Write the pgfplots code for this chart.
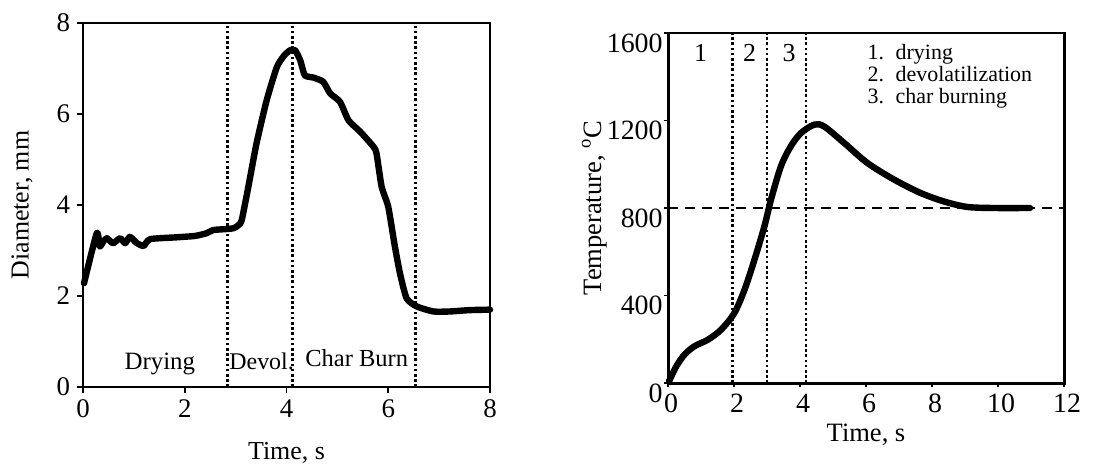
\documentclass[border=0pt]{standalone}
\usepackage{fontspec}
\setmainfont{Liberation Serif}
\usepackage{pgfplots}
\pgfplotsset{compat=1.18}
\begin{document}
\begin{tikzpicture}[x=1bp,y=1bp]
\useasboundingbox (0,0) rectangle (546.5,232.5);
% ---------------- left: diameter ----------------
\begin{axis}[
  at={(41.5bp,39bp)}, anchor=south west,
  width=203.5bp, height=182bp, scale only axis,
  xmin=0, xmax=8, ymin=0, ymax=8,
  xtick={0,2,4,6,8}, ytick={0,2,4,6,8},
  xtick pos=bottom, ytick pos=left,
  tick align=outside, major tick length=3bp,
  axis line style={line width=1.4pt},
  tick style={line width=0.9pt, black},
  ticklabel style={font=\fontsize{13.5}{15}\selectfont},
  /pgf/number format/assume math mode=true,
  xlabel={Time, s}, ylabel={Diameter, mm},
  label style={font=\fontsize{13}{15}\selectfont},
  xlabel style={at={(axis description cs:0.5,-0.18)}, anchor=center},
  ylabel style={at={(axis description cs:-0.15,0.5)}, anchor=center},
  clip=false,
]
\addplot[black, line width=3.2bp, line join=round, line cap=round, smooth, tension=0.35] coordinates {
(0.02,2.28) (0.27,3.38) (0.33,3.09) (0.40,3.20) (0.47,3.27) (0.54,3.20) (0.60,3.16)
(0.73,3.27) (0.83,3.16) (0.92,3.30) (1.05,3.17) (1.19,3.10) (1.32,3.25) (1.84,3.29)
(2.20,3.32) (2.43,3.38) (2.56,3.45) (2.80,3.47) (2.96,3.49) (3.05,3.55) (3.12,3.67)
(3.25,4.40) (3.41,5.35) (3.61,6.30) (3.81,7.03) (3.95,7.28) (4.07,7.40) (4.17,7.40)
(4.27,7.18) (4.36,6.85) (4.53,6.80) (4.72,6.71) (4.86,6.45) (5.05,6.27) (5.22,5.86)
(5.45,5.61) (5.71,5.28) (5.77,5.13) (5.87,4.40) (6.00,3.96) (6.13,3.09) (6.23,2.50)
(6.36,1.95) (6.56,1.77) (6.89,1.66) (7.21,1.66) (7.60,1.69) (8.00,1.70)
};
\addplot[black, line width=1.3bp, dash pattern=on 1.3bp off 1.3bp] coordinates {(2.84,0) (2.84,8)};
\addplot[black, line width=1.3bp, dash pattern=on 1.3bp off 1.3bp] coordinates {(4.12,0) (4.12,8)};
\addplot[black, line width=1.3bp, dash pattern=on 1.3bp off 1.3bp] coordinates {(6.53,0) (6.53,8)};
\node[anchor=base, font=\fontsize{12.5}{14}\selectfont] at (axis cs:1.51,0.38) {Drying};
\node[anchor=base, font=\fontsize{12}{14}\selectfont] at (axis cs:3.51,0.39) {Devol.};
\node[anchor=base, font=\fontsize{12.3}{14}\selectfont] at (axis cs:5.38,0.45) {Char Burn};
\end{axis}
% ---------------- right: temperature ----------------
\begin{axis}[
  at={(334bp,41bp)}, anchor=south west,
  width=198bp, height=175bp, scale only axis,
  xmin=0, xmax=12, ymin=0, ymax=1600,
  xtick={0,2,4,6,8,10,12}, ytick={0,400,800,1200,1600},
  xtick pos=bottom, ytick pos=left,
  tick align=outside, major tick length=2bp,
  axis line style={line width=1.5pt},
  tick style={line width=0.8pt, black},
  ticklabel style={font=\fontsize{14}{16}\selectfont},
  yticklabel style={inner sep=0.5bp, yshift=-5bp},
  xticklabel style={xshift=1.5bp},
  /pgf/number format/assume math mode=true,
  /pgf/number format/1000 sep={},
  xlabel={Time, s}, ylabel={Temperature, \textsuperscript{o}C},
  label style={font=\fontsize{13.3}{15}\selectfont},
  xlabel style={at={(axis description cs:0.5,-0.149)}, anchor=center},
  ylabel style={at={(axis description cs:-0.186,0.5)}, anchor=center},
  clip=false,
]
\addplot[black, line width=1.2bp, dash pattern=on 5bp off 3.5bp] coordinates {(0,800) (12,800)};
\addplot[black, line width=1.3bp, dash pattern=on 1.3bp off 1.3bp] coordinates {(1.95,0) (1.95,1600)};
\addplot[black, line width=1.3bp, dash pattern=on 1.3bp off 1.3bp] coordinates {(3.0,0) (3.0,1600)};
\addplot[black, line width=1.3bp, dash pattern=on 1.3bp off 1.3bp] coordinates {(4.18,0) (4.18,1600)};
\addplot[black, line width=3.2bp, smooth, tension=0.5, line cap=round] coordinates {
(0.03,8) (0.25,76) (0.5,130) (0.8,168) (1.21,198) (1.61,244) (2.01,320) (2.32,427)
(2.62,564) (2.92,716) (3.12,838) (3.42,990) (3.72,1082) (4.03,1143) (4.43,1181)
(4.73,1173) (5.34,1097) (6.04,1006) (6.85,930) (7.65,869) (8.36,830) (9.06,805)
(9.87,800) (10.97,800)
};
\node[anchor=center, font=\fontsize{13}{15}\selectfont] at (axis cs:0.99,1509) {1};
\node[anchor=center, font=\fontsize{13}{15}\selectfont] at (axis cs:2.47,1509) {2};
\node[anchor=center, font=\fontsize{13}{15}\selectfont] at (axis cs:3.67,1509) {3};
\node[anchor=base west, inner sep=0pt, font=\fontsize{11}{12}\selectfont] at (axis cs:6.04,1478) {\makebox[14bp][l]{1.}drying};
\node[anchor=base west, inner sep=0pt, font=\fontsize{11}{12}\selectfont] at (axis cs:6.04,1379) {\makebox[14bp][l]{2.}devolatilization};
\node[anchor=base west, inner sep=0pt, font=\fontsize{11}{12}\selectfont] at (axis cs:6.04,1280) {\makebox[14bp][l]{3.}char burning};
\end{axis}
\end{tikzpicture}
\end{document}
